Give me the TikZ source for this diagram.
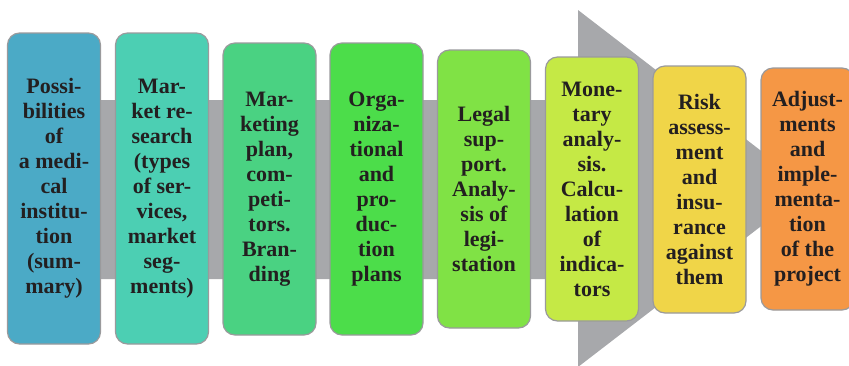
\documentclass[tikz,border=0pt]{standalone}
\usepackage{fontspec}
\setmainfont{Liberation Serif}
\definecolor{arrowgray}{HTML}{A7A8AB}
\definecolor{boxedge}{HTML}{9A9A9C}
\definecolor{textdark}{HTML}{231F20}
\definecolor{stageA}{HTML}{4BAAC6}
\definecolor{stageB}{HTML}{4CCFB3}
\definecolor{stageC}{HTML}{4AD282}
\definecolor{stageD}{HTML}{4CDD4A}
\definecolor{stageE}{HTML}{80E245}
\definecolor{stageF}{HTML}{C5E945}
\definecolor{stageG}{HTML}{F0D548}
\definecolor{stageH}{HTML}{F59745}
\tikzset{
  stage/.style={draw=boxedge, line width=1.2pt, rounded corners=12pt,
    minimum width=93pt, inner sep=0pt, align=center, text=textdark,
    font=\bfseries\fontsize{22}{25}\selectfont},
}
\begin{document}
\begin{tikzpicture}[x=1pt,y=-1pt]
    \useasboundingbox (0,0) rectangle (849,365);
    % gray arrow running behind the stages
    \fill[arrowgray] (30,100) -- (578,100) -- (578,10) -- (810,188.5)
        -- (578,367) -- (578,279) -- (30,279) -- cycle;
    % stages, left to right
    \node[stage, fill=stageA, minimum height=311pt] (possib) at (54,188.5)
        {Possi-\\bilities\\of\\a medi-\\cal\\institu-\\tion\\(sum-\\mary)};
    \node[stage, fill=stageB, minimum height=311pt] (research) at (162,188.5)
        {Mar-\\ket re-\\search\\(types\\of ser-\\vices,\\market\\seg-\\ments)};
    \node[stage, fill=stageC, minimum height=292pt] (marketing) at (269.5,189)
        {Mar-\\keting\\plan,\\com-\\peti-\\tors.\\Bran-\\ding};
    \node[stage, fill=stageD, minimum height=292pt] (organiz) at (376.5,189)
        {Orga-\\niza-\\tional\\and\\pro-\\duc-\\tion\\plans};
    \node[stage, fill=stageE, minimum height=278pt] (legal) at (484,189)
        {Legal\\sup-\\port.\\Analy-\\sis of\\legi-\\station};
    \node[stage, fill=stageF, minimum height=264pt] (monetary) at (592,189)
        {Mone-\\tary\\analy-\\sis.\\Calcu-\\lation\\of\\indica-\\tors};
    \node[stage, fill=stageG, minimum height=247pt] (risk) at (699.5,189.5)
        {Risk\\assess-\\ment\\and\\insu-\\rance\\against\\them};
    \node[stage, fill=stageH, minimum height=242pt] (adjust) at (807.5,189)
        {Adjust-\\ments\\and\\imple-\\menta-\\tion\\of the\\project};
\end{tikzpicture}
\end{document}
